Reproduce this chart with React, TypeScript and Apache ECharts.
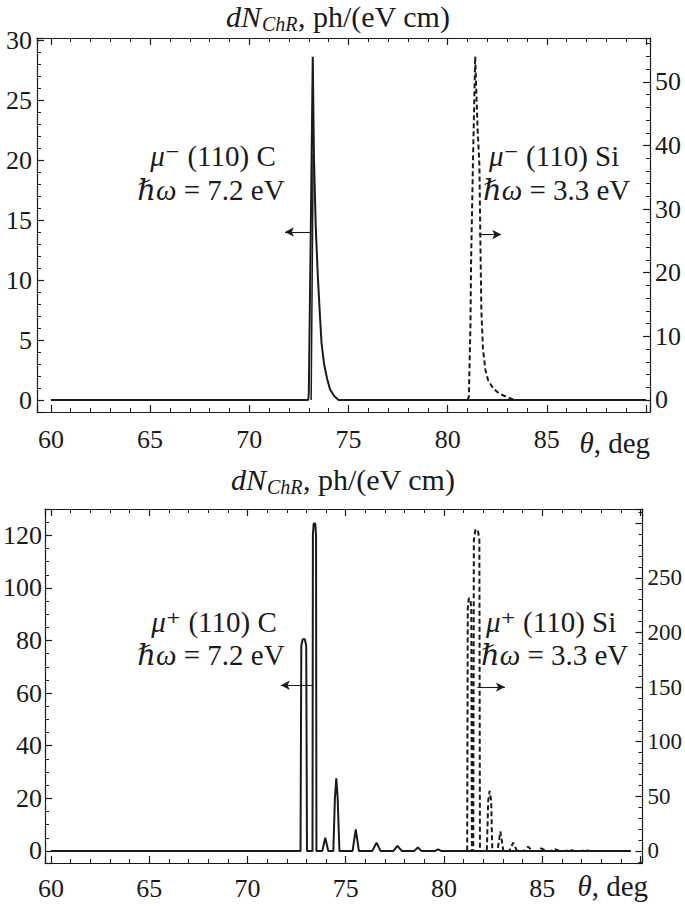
import React, { useEffect, useRef } from "react";
import * as echarts from "echarts";

// ---------- data (theta in deg, dN/(dE dx) in ph/(eV cm)) ----------
// Top panel: mu- (110), C on left axis, Si on right axis
const topC: [number, number][] = [
  [60, 0], [72.97, 0], [73.0, 0.5], [73.1, 14], [73.2, 28.6], [73.26, 20.2],
  [73.35, 14.5], [73.45, 10.5], [73.55, 7.4], [73.64, 4.8], [73.77, 3.0], [73.92, 1.8],
  [74.07, 0.9], [74.27, 0.35], [74.5, 0], [90, 0],
];
const topCInner: [number, number][] = [[73.12, 0], [73.17, 10], [73.22, 20.5]];
const topSi: [number, number][] = [
  [81.0, 0], [81.07, 0.5], [81.15, 12], [81.18, 21.5], [81.28, 38], [81.39, 54],
  [81.45, 48], [81.51, 42.6], [81.6, 37], [81.65, 25], [81.7, 14], [81.78, 8],
  [81.9, 4.8], [82.04, 3.1], [82.3, 1.8], [82.6, 1], [83.1, 0.3], [83.4, 0],
];
// Bottom panel: mu+ (110)
const botC: [number, number][] = [
  [60, 0], [72.7, 0], [72.74, 78], [72.81, 80.5], [72.92, 80.5], [72.99, 78], [73.03, 0],
  [73.31, 0], [73.33, 120], [73.37, 124.5], [73.45, 124.5], [73.49, 120], [73.51, 0],
  [73.81, 0], [73.96, 5], [74.11, 0],
  [74.37, 0], [74.45, 20], [74.52, 27.6], [74.59, 20], [74.68, 0],
  [75.35, 0], [75.51, 8.2], [75.67, 0],
  [76.35, 0], [76.57, 3.1], [76.77, 0],
  [77.43, 0], [77.63, 1.9], [77.85, 0],
  [78.49, 0], [78.67, 1.3], [78.85, 0],
  [79.55, 0], [79.7, 0.6], [79.85, 0],
  [89.5, 0],
];
const botSi: [number, number][] = [
  [80.8, 0], [81.18, 0], [81.21, 222], [81.26, 231], [81.34, 231], [81.39, 222], [81.42, 0],
  [81.49, 0], [81.52, 285], [81.6, 294], [81.72, 294], [81.8, 285], [81.83, 0],
  [82.18, 0], [82.25, 46], [82.32, 55], [82.4, 46], [82.46, 0],
  [82.72, 0], [82.87, 18], [83.02, 0],
  [83.32, 0], [83.52, 7.5], [83.72, 0],
  [84.05, 0], [84.28, 4], [84.5, 0],
  [84.75, 0], [84.95, 2.5], [85.2, 0],
  [85.45, 0], [85.65, 1.6], [85.9, 0],
  [86.2, 0], [86.4, 1], [86.65, 0],
  [87.0, 0], [87.2, 0.8], [87.4, 0], [89.5, 0],
];

// tick labels
const xTickLabels = [60, 65, 70, 75, 80, 85];
const topLeftTicks = [0, 5, 10, 15, 20, 25, 30];
const topRightTicks = [0, 10, 20, 30, 40, 50];
const botLeftTicks = [0, 20, 40, 60, 80, 100, 120];
const botRightTicks = [0, 50, 100, 150, 200, 250];

// arrows [from, to] in data coordinates
const topCArrow: [number, number][] = [[73.06, 14], [71.8, 14]];
const topSiArrow: [number, number][] = [[81.57, 26], [82.7, 26]];
const botCArrow: [number, number][] = [[73.29, 63], [71.7, 63]];
const botSiArrow: [number, number][] = [[81.7, 150], [83.1, 150]];

const FONT = "'Liberation Serif', 'DejaVu Serif', 'Times New Roman', serif";
const INK = "#1a1a1a";

function fmt(list: number[]) {
  return (v: number) => (list.some((t) => Math.abs(t - v) < 1e-6) ? String(v) : "");
}

function xAx(grid: number, min: number, max: number, top: boolean, margin: number) {
  return {
    type: "value",
    gridIndex: grid,
    position: top ? "top" : "bottom",
    min,
    max,
    splitNumber: 6,
    splitLine: { show: false },
    axisLine: { show: true, onZero: false, lineStyle: { color: INK, width: 1.2 } },
    axisTick: { show: true, inside: true, length: 7, lineStyle: { color: INK, width: 1.2 } },
    minorTick: { show: true, splitNumber: 5, length: 4, lineStyle: { color: INK, width: 1 } },
    axisLabel: {
      show: !top,
      margin,
      fontSize: 26,
      fontFamily: FONT,
      color: INK,
      formatter: fmt(xTickLabels),
      hideOverlap: false,
    },
  };
}

function yAx(grid: number, pos: "left" | "right", min: number, max: number, split: number, minorSplit: number, ticks: number[], fs: number, margin: number) {
  return {
    type: "value",
    gridIndex: grid,
    position: pos,
    min,
    max,
    splitNumber: split,
    splitLine: { show: false },
    axisLine: { show: true, onZero: false, lineStyle: { color: INK, width: 1.2 } },
    axisTick: { show: true, inside: true, length: 7, lineStyle: { color: INK, width: 1.2 } },
    minorTick: { show: true, splitNumber: minorSplit, length: 4, lineStyle: { color: INK, width: 1 } },
    axisLabel: {
      margin,
      fontSize: fs,
      fontFamily: FONT,
      color: INK,
      formatter: fmt(ticks),
      hideOverlap: false,
    },
  };
}

function arrowLine(a: [number, number][]) {
  return {
    silent: true,
    symbol: ["none", "arrow"],
    symbolSize: [7, 9],
    lineStyle: { color: INK, width: 1.1, type: "solid" },
    label: { show: false },
    emphasis: { disabled: true },
    data: [[{ coord: a[0] }, { coord: a[1] }]],
  };
}

function lineSeries(name: string, data: [number, number][], xi: number, yi: number, dashed: boolean, width: number, mark?: any) {
  const s: any = {
    name,
    type: "line",
    xAxisIndex: xi,
    yAxisIndex: yi,
    data,
    showSymbol: false,
    symbol: "none",
    lineStyle: { color: INK, width, type: dashed ? [5, 3] : "solid" },
    z: 3,
  };
  if (mark) s.markLine = mark;
  return s;
}

const textStyle = (text: string, align: string, size = 29) => ({
  text,
  fill: INK,
  fontSize: size,
  fontFamily: FONT,
  align,
  verticalAlign: "middle",
  rich: {
    i: { fontStyle: "italic", fontSize: size, fontFamily: FONT, fill: INK },
  },
});

// title: "dN" + subscript "ChR" + ", ph/(eV cm)", anchored at its left end
function title(x0: number, y: number) {
  return {
    type: "group",
    x: x0,
    y,
    children: [
      { type: "text", x: 0, y: 0, style: { text: "dN", fontSize: 30, fontStyle: "italic", fontFamily: FONT, fill: INK, align: "left", verticalAlign: "middle" } },
      { type: "text", x: 36, y: 8, style: { text: "ChR", fontSize: 20, fontStyle: "italic", fontFamily: FONT, fill: INK, align: "left", verticalAlign: "middle" } },
      { type: "text", x: 72, y: 0, style: { text: ", ph/(eV cm)", fontSize: 30, fontFamily: FONT, fill: INK, align: "left", verticalAlign: "middle" } },
    ],
  };
}

export default function App() {
  const ref = useRef<HTMLDivElement>(null);
  useEffect(() => {
    if (!ref.current) return;
    const chart = echarts.init(ref.current, null, { renderer: "svg" });
    chart.setOption({
      animation: false,
      backgroundColor: "#ffffff",
      grid: [
        { left: 37, top: 38, width: 613, height: 374 },
        { left: 45, top: 509, width: 603, height: 354 },
      ],
      xAxis: [
        xAx(0, 59.3, 90.2, false, 14),
        xAx(0, 59.3, 90.2, true, 8),
        xAx(1, 59.7, 90.1, false, 12),
        xAx(1, 59.7, 90.1, true, 8),
      ],
      yAxis: [
        yAx(0, "left", -1, 30.17, 6, 5, topLeftTicks, 26, 5),
        yAx(0, "right", -1.9, 56.9, 6, 5, topRightTicks, 26, 5),
        yAx(1, "left", -4.6, 130, 7, 4, botLeftTicks, 26, 3),
        yAx(1, "right", -11, 313, 6, 5, botRightTicks, 23, 5),
      ],
      series: [
        lineSeries("mu- C", topC, 0, 0, false, 2, arrowLine(topCArrow)),
        lineSeries("mu- C inner", topCInner, 0, 0, false, 1.5),
        lineSeries("mu- Si", topSi, 0, 1, true, 2, arrowLine(topSiArrow)),
        lineSeries("mu+ C", botC, 2, 2, false, 2, arrowLine(botCArrow)),
        lineSeries("mu+ Si", botSi, 2, 3, true, 2, arrowLine(botSiArrow)),
      ],
      graphic: [
        title(226, 16),
        title(231, 479),
        { type: "text", x: 650, y: 443, style: textStyle("{i|θ}, deg", "right", 29) },
        { type: "text", x: 648, y: 886, style: textStyle("{i|θ}, deg", "right", 29) },
        { type: "text", x: 213, y: 156, style: textStyle("{i|μ}⁻ (110) C", "center") },
        { type: "text", x: 211, y: 190, style: textStyle("{i|ℏω} = 7.2 eV", "center") },
        { type: "text", x: 489, y: 156, style: textStyle("{i|μ}⁻ (110) Si", "left") },
        { type: "text", x: 483, y: 190, style: textStyle("{i|ℏω} = 3.3 eV", "left") },
        { type: "text", x: 214, y: 622, style: textStyle("{i|μ}⁺ (110) C", "center") },
        { type: "text", x: 211, y: 655, style: textStyle("{i|ℏω} = 7.2 eV", "center") },
        { type: "text", x: 486, y: 622, style: textStyle("{i|μ}⁺ (110) Si", "left") },
        { type: "text", x: 481, y: 655, style: textStyle("{i|ℏω} = 3.3 eV", "left") },
      ],
    });
    return () => chart.dispose();
  }, []);
  return (
    <div
      ref={ref}
      style={{ position: "absolute", left: 0, top: 0, width: 685, height: 906, background: "#fff" }}
    />
  );
}
